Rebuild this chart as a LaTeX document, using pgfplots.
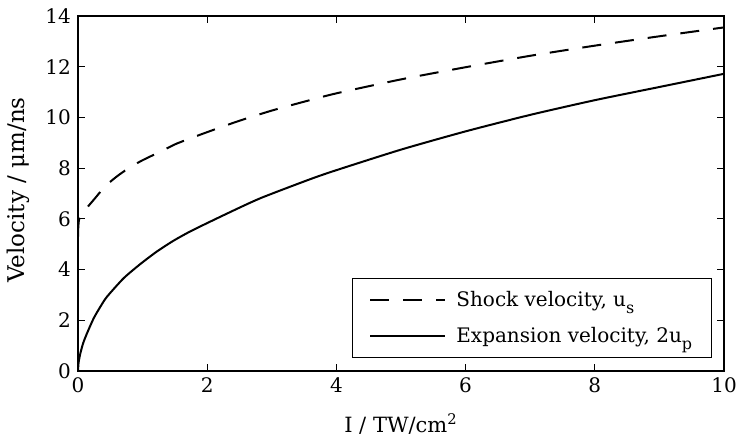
\documentclass[border=0pt]{standalone}
\usepackage{fontspec}
\setmainfont{DejaVu Serif}
\usepackage{pgfplots}
\pgfplotsset{compat=1.18}
\newcommand{\lsub}[1]{\raisebox{-3.5pt}{\fontsize{8}{9}\selectfont #1}}
\begin{document}
\fontsize{10}{12}\selectfont
\begin{tikzpicture}
\useasboundingbox (-39pt,-33pt) rectangle (330pt,185.5pt);
\begin{axis}[
  at={(0pt,0pt)}, anchor=south west,
  scale only axis, width=323pt, height=177.5pt,
  xmin=0, xmax=10, ymin=0, ymax=14,
  xtick={0,2,4,6,8,10}, ytick={0,2,4,6,8,10,12,14},
  tick align=inside, major tick length=3.5pt,
  axis line style={line width=0.75pt},
  every tick/.style={black, line width=0.6pt},
  /pgf/number format/assume math mode=true,
  tick label style={font=\fontsize{10}{12}\selectfont},
  xlabel={I / TW/cm\textsuperscript{2}},
  ylabel={Velocity / μm/ns},
  every axis x label/.style={at={(axis description cs:0.5,-0.172)}, anchor=base, font=\fontsize{10.5}{12}\selectfont},
  every axis y label/.style={at={(axis description cs:-0.0929,0.51)}, anchor=center, rotate=90, font=\fontsize{11.5}{13}\selectfont},
  legend cell align=left,
  legend image code/.code={\draw[#1] (0pt,0pt) -- (37.5pt,0pt);},
  legend style={at={(axis description cs:0.9814,0.0366)}, anchor=south east,
    draw=black, line width=0.6pt, inner xsep=8.5pt, inner ysep=6pt,
    row sep=8.5pt, nodes={inner sep=0pt}, font=\fontsize{10}{12}\selectfont},
]
\addplot[black, line width=1pt, dash pattern=on 9.5pt off 7pt, smooth, tension=0.4] coordinates {
(0,5.3) (0.005,5.7) (0.02,6.0) (0.09,6.29) (0.243,6.75) (0.42,7.28) (0.6,7.67)
(0.785,8.0) (0.99,8.3) (1.3,8.68) (1.53,8.97) (2.0,9.42) (2.5,9.87) (3.0,10.27)
(3.5,10.62) (4.0,10.95) (5.0,11.5) (6.0,11.98) (7.0,12.43) (8.0,12.83) (9.0,13.2) (10.0,13.55)
};
\addlegendentry{\makebox[124pt][l]{\rule[-3.5pt]{0pt}{11.5pt}\hspace{5pt}Shock velocity, u\lsub{s}}}
\addplot[black, line width=1pt, smooth, tension=0.4] coordinates {
(0,0) (0.01,0.35) (0.037,0.70) (0.08,1.1) (0.14,1.49) (0.243,2.08) (0.35,2.55)
(0.449,2.93) (0.707,3.66) (0.966,4.22) (1.22,4.71) (1.48,5.14) (1.765,5.54)
(2.3,6.2) (2.82,6.81) (3.59,7.56) (4.0,7.92) (5.0,8.73) (6.0,9.45) (7.0,10.1)
(8.0,10.68) (9.0,11.2) (10.0,11.72)
};
\addlegendentry{\makebox[124pt][l]{\rule[-3.5pt]{0pt}{11.5pt}\hspace{5pt}Expansion velocity, 2u\lsub{p}}}
\end{axis}
\end{tikzpicture}
\end{document}
